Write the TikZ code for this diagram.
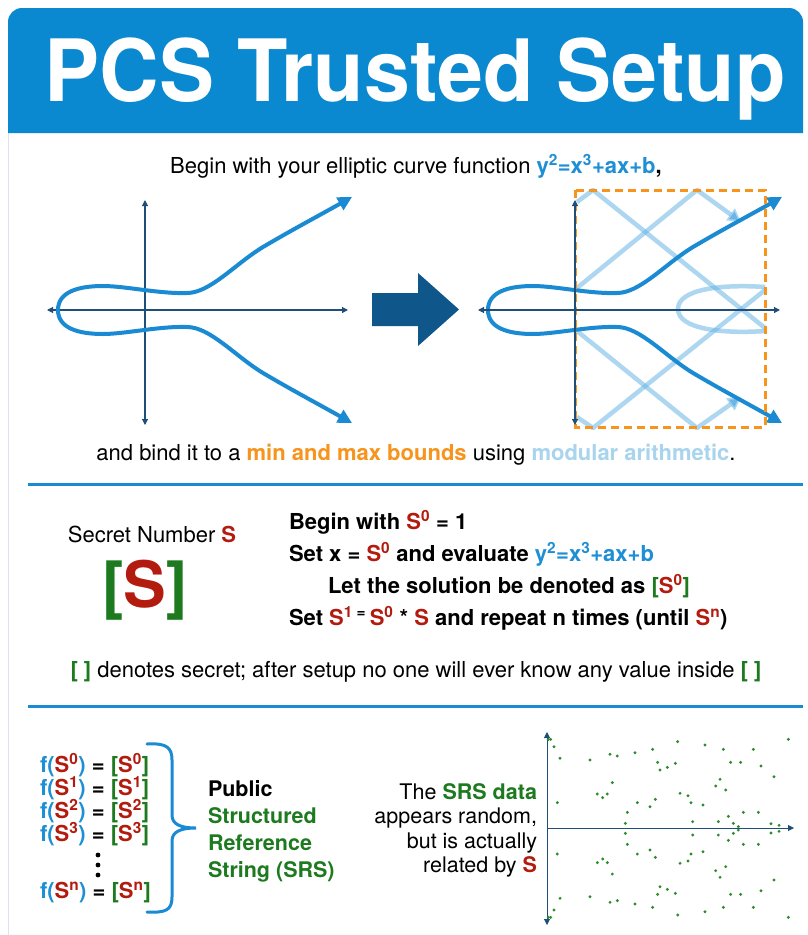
\documentclass[tikz,border=0pt]{standalone}
\usepackage{fontspec}
\setmainfont{TeX Gyre Heros}
\usetikzlibrary{arrows.meta}

\definecolor{hdrblue}{HTML}{0A88D0}
\definecolor{curveblue}{HTML}{1A8AD2}
\definecolor{axisblue}{HTML}{1F4E79}
\definecolor{arrowblue}{HTML}{0F578A}
\definecolor{fblue}{HTML}{1E8FD5}
\definecolor{wrapblue}{HTML}{6BB6E6}
\definecolor{modblue}{HTML}{A8D4EE}
\definecolor{bound}{HTML}{F7941D}
\definecolor{sred}{HTML}{B31B0F}
\definecolor{sgreen}{HTML}{1D7A1F}
\definecolor{cardline}{HTML}{DCE3EC}
\definecolor{dotgreen}{HTML}{2E8B2E}

\newcommand\bodyfont{\fontsize{22}{26}\selectfont}
\newcommand\smallbody{\fontsize{21.5}{25}\selectfont}
\newcommand\rS[1]{\textcolor{sred}{S\textsuperscript{#1}}}
\newcommand\gS[1]{\textcolor{sgreen}{[}\textcolor{sred}{S\textsuperscript{#1}}\textcolor{sgreen}{]}}
\newcommand\fS[1]{\textcolor{fblue}{f(}\rS{#1}\textcolor{fblue}{)} = \gS{#1}}
\newcommand\ecfn{\textcolor{fblue}{y\textsuperscript{2}=x\textsuperscript{3}+ax+b}}

\tikzset{
  txt/.style={inner sep=0pt, outer sep=0pt, font=\bodyfont},
  axisline/.style={draw=axisblue, line width=1.1pt, {Triangle[length=6pt,width=6pt]}-{Triangle[length=6pt,width=6pt]}},
  ecurve/.style={draw=curveblue, line width=4pt, line cap=round,
    {Triangle[length=14pt,width=14pt]}-{Triangle[length=14pt,width=14pt]}},
  wrapline/.style={draw=wrapblue, draw opacity=0.55, line width=4.5pt, line join=round},
  wraparrow/.style={wrapline, -{Triangle[length=13pt,width=14pt]}},
  divider/.style={draw=curveblue, line width=3pt},
  dot/.style={fill=dotgreen},
}

\begin{document}
\begin{tikzpicture}[x=1pt,y=-1pt]
\useasboundingbox (0,0) rectangle (808,935);
\fill[white] (0,0) rectangle (808,935);

% card edge and header band
\draw[cardline, line width=1.2pt] (8.5,22) -- (8.5,935);
\fill[hdrblue] (8,133) -- (8,22) arc[start angle=180,end angle=270,radius=14]
  -- (789,8) arc[start angle=270,end angle=360,radius=14] -- (803,133) -- cycle;
\node[txt, anchor=base, text=white, font=\fontsize{86}{90}\selectfont\bfseries]
  (title) at (415,101) {\scalebox{0.96}[1]{PCS Trusted Setup}};

\node[txt, anchor=base] (intro) at (416,173)
  {Begin with your elliptic curve function \textbf{\ecfn,}};

% ---- left: the curve over the reals
\draw[axisline] (47,310) -- (348,310);
\draw[axisline] (145,200) -- (145,425);
\draw[ecurve] (352,197) .. controls (320,215) and (290,231) .. (263,247)
  .. controls (235,264) and (210,293) .. (187,293)
  .. controls (160,294) and (125,286) .. (103,286)
  .. controls (78,286) and (58,292) .. (58,310)
  .. controls (58,328) and (78,334) .. (103,334)
  .. controls (125,334) and (160,326) .. (187,327)
  .. controls (210,327) and (235,356) .. (263,373)
  .. controls (290,389) and (320,405) .. (352,423);

% ---- big arrow
\fill[arrowblue] (372,293) -- (418,293) -- (418,273) -- (459,309.5)
  -- (418,346) -- (418,326) -- (372,326) -- cycle;

% ---- right: the curve wrapped by the bounds
\draw[wraparrow] (577,288) -- (697,190) -- (741,222);
\draw[wrapline] (577,202) -- (593,190) -- (765,328);
\draw[wraparrow] (577,331) -- (697,428) -- (741,397);
\draw[wrapline] (577,417) -- (593,428) -- (765,290);
\draw[wrapline] (765,287) .. controls (722,284) and (678,289) .. (678,309)
  .. controls (678,329) and (722,334) .. (765,331);
\begin{scope}[xshift=430pt]
\draw[ecurve] (352,197) .. controls (320,215) and (290,231) .. (263,247)
  .. controls (235,264) and (210,293) .. (187,293)
  .. controls (160,294) and (125,286) .. (103,286)
  .. controls (78,286) and (58,292) .. (58,310)
  .. controls (58,328) and (78,334) .. (103,334)
  .. controls (125,334) and (160,326) .. (187,327)
  .. controls (210,327) and (235,356) .. (263,373)
  .. controls (290,389) and (320,405) .. (352,423);
\end{scope}
\draw[bound, line width=3pt, dash pattern=on 8pt off 5pt] (575,190) rectangle (765,427);
\draw[axisline] (478,310) -- (780,310);
\draw[axisline] (575,200) -- (575,425);

\node[txt, anchor=base] (bind) at (416,460)
  {and bind it to a \textbf{\textcolor{bound}{min and max bounds}} using \textbf{\textcolor{modblue}{modular arithmetic}}.};

\draw[divider] (28,484) -- (803,484);

% ---- secret number
\node[txt, anchor=base] (secret) at (152,542) {Secret Number \textbf{\textcolor{sred}{S}}};
\node[txt, anchor=base, font=\fontsize{64}{70}\selectfont\bfseries] (bigS) at (145,607)
  {\textcolor{sgreen}{[}\textcolor{sred}{S}\textcolor{sgreen}{]}};

\node[txt, anchor=base west, font=\bodyfont\bfseries] (step1) at (289,529) {Begin with \rS{0} = 1};
\node[txt, anchor=base west, font=\bodyfont\bfseries] (step2) at (289,561) {Set x = \rS{0} and evaluate \ecfn};
\node[txt, anchor=base west, font=\bodyfont\bfseries] (step3) at (328,593) {Let the solution be denoted as \gS{0}};
\node[txt, anchor=base west, font=\bodyfont\bfseries] (step4) at (289,625)
  {Set \rS{1}\,\textsuperscript{=}\,\rS{0} * \textcolor{sred}{S} and repeat n times (until \rS{n})};

\node[txt, anchor=base] (note) at (416,677)
  {\textbf{\textcolor{sgreen}{[ ]}} denotes secret; after setup no one will ever know any value inside \textbf{\textcolor{sgreen}{[ ]}}};

\draw[divider] (28,706) -- (803,706);

% ---- public SRS list
\node[txt, anchor=base west, font=\bodyfont\bfseries] (r0) at (40,772) {\fS{0}};
\node[txt, anchor=base west, font=\bodyfont\bfseries] (r1) at (40,795) {\fS{1}};
\node[txt, anchor=base west, font=\bodyfont\bfseries] (r2) at (40,818) {\fS{2}};
\node[txt, anchor=base west, font=\bodyfont\bfseries] (r3) at (40,841) {\fS{3}};
\node[txt, anchor=base west, font=\bodyfont\bfseries] (rn) at (40,898) {\fS{n}};
\foreach \yy in {855,865,875} \fill (98,\yy) circle[radius=2.4];

\draw[curveblue, line width=3pt, line cap=round]
  (147,744) .. controls (166,743) and (172,747) .. (172,760) -- (172,815)
  .. controls (172,824) and (180,828) .. (196,828)
  .. controls (180,828) and (172,832) .. (172,841) -- (172,897)
  .. controls (172,910) and (166,913) .. (147,912);

\node[txt, anchor=base west, font=\smallbody\bfseries] (pub) at (208,796) {Public};
\node[txt, anchor=base west, font=\smallbody\bfseries, text=sgreen] (srs1) at (208,823) {Structured};
\node[txt, anchor=base west, font=\smallbody\bfseries, text=sgreen] (srs2) at (208,850) {Reference};
\node[txt, anchor=base west, font=\smallbody\bfseries, text=sgreen] (srs3) at (208,877) {String (SRS)};

% ---- scatter of SRS points
\node[txt, anchor=base east, font=\smallbody] (d1) at (537,799) {The \textbf{\textcolor{sgreen}{SRS data}}};
\node[txt, anchor=base east, font=\smallbody] (d2) at (537,823) {appears random,};
\node[txt, anchor=base east, font=\smallbody] (d3) at (537,848) {but is actually};
\node[txt, anchor=base east, font=\smallbody] (d4) at (537,872) {related by \textbf{\textcolor{sred}{S}}};

\draw[axisline, line width=0.9pt] (547,732) -- (547,925);
\draw[draw=axisblue, line width=0.9pt, -{Triangle[length=6pt,width=6pt]}] (547,828) -- (794,828);
\foreach \X/\Y in {505/58, 512/58, 522/80, 540/115, 630/120, 690/103, 712/108, 765/98,
  818/88, 893/65, 975/75, 1030/88, 1120/88, 1225/58, 833/127, 840/150, 862/142, 886/130,
  1052/127, 1082/127, 1143/138, 1182/170, 697/188, 652/222, 668/233, 682/222, 1020/178,
  1007/198, 1037/210, 532/248, 772/248, 810/260, 826/238, 742/277, 900/220, 924/227,
  933/248, 969/255, 1090/277, 1135/277, 1045/289, 736/310, 938/305, 1015/305, 1060/310,
  1075/320, 1173/311, 1197/316}
{
  \fill[dot] ({380+\X/3},{720+\Y/3}) circle[radius=1.6];
  \fill[dot] ({380+\X/3},{720+(650-\Y)/3}) circle[radius=1.6];
}
\end{tikzpicture}
\end{document}
